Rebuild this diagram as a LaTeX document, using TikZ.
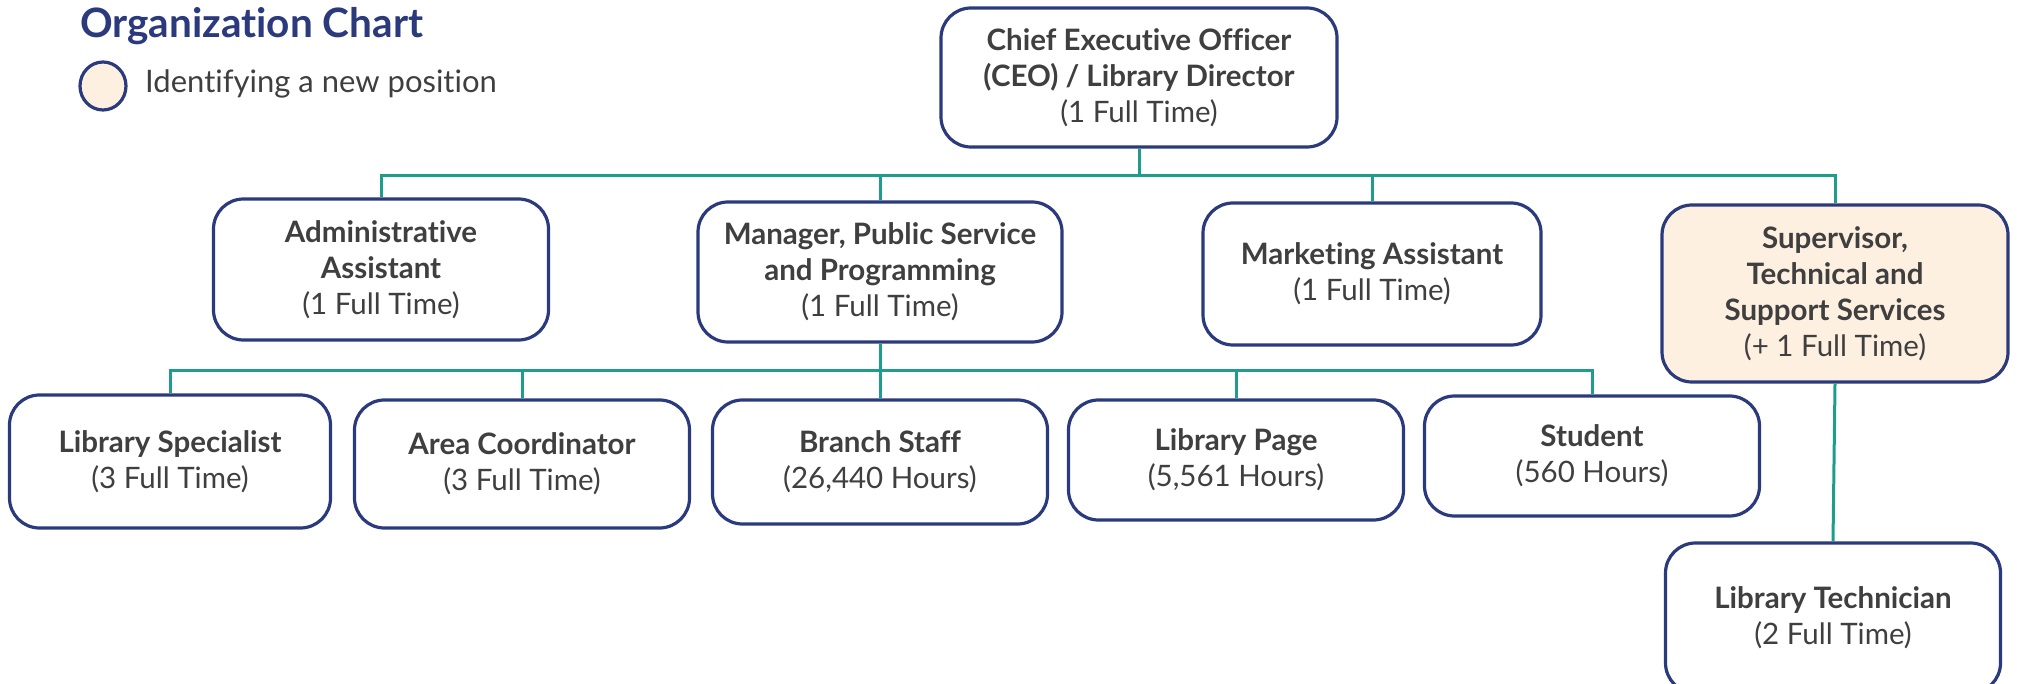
\documentclass[tikz,border=0pt]{standalone}
\usepackage{fontspec}
\usetikzlibrary{shapes.geometric}
\setmainfont{Lato}[Ligatures={NoCommon}]
\definecolor{navy}{HTML}{2A3A7C}
\definecolor{teal}{HTML}{1E9C8C}
\definecolor{txt}{HTML}{3F3F3F}
\definecolor{newfill}{HTML}{FDF0E1}
\tikzset{
  box/.style={draw=navy, line width=3.2pt, rounded corners=30pt, fill=white,
    text=txt, align=center, inner sep=0pt,
    font=\fontsize{29.5}{36}\selectfont},
  newbox/.style={box, fill=newfill},
  conn/.style={draw=teal, line width=3pt},
}
\newcommand{\hd}[1]{{\bfseries #1}}
\begin{document}
\begin{tikzpicture}[x=1pt,y=-1pt]
\useasboundingbox (0,0) rectangle (2018,684);
\clip (0,0) rectangle (2018,684);
% title and legend
\node[anchor=west, text=navy, font=\fontsize{40.5}{44}\selectfont\bfseries, inner sep=0pt] (title) at (80,26) {Organization Chart};
\node[draw=navy, line width=3.2pt, fill=newfill, ellipse, minimum width=46pt, minimum height=48pt, inner sep=0pt] (legc) at (103,86) {};
\node[anchor=west, text=txt, font=\fontsize{31}{34}\selectfont, inner sep=0pt] (legt) at (145,84) {Identifying a new position};
% level 0
\node[box, minimum width=396pt, minimum height=139pt] (ceo) at (1139,77.5)
  {\hd{Chief Executive Officer}\\\hd{(CEO) / Library Director}\\(1 Full Time)};
% level 1
\node[box, minimum width=335pt, minimum height=141pt] (admin) at (381,269.5)
  {\hd{Administrative}\\\hd{Assistant}\\(1 Full Time)};
\node[box, minimum width=364pt, minimum height=140pt] (mgr) at (880,272)
  {\hd{Manager, Public Service}\\\hd{and Programming}\\(1 Full Time)};
\node[box, minimum width=338pt, minimum height=142pt] (mkt) at (1372,274)
  {\hd{Marketing Assistant}\\(1 Full Time)};
\node[newbox, minimum width=346pt, minimum height=177pt] (sup) at (1835,293.5)
  {\hd{Supervisor,}\\\hd{Technical and}\\\hd{Support Services}\\(+ 1 Full Time)};
% level 2
\node[box, minimum width=321pt, minimum height=133pt] (spec) at (170,461.5)
  {\hd{Library Specialist}\\(3 Full Time)};
\node[box, minimum width=335pt, minimum height=128pt] (area) at (522,464)
  {\hd{Area Coordinator}\\(3 Full Time)};
\node[box, minimum width=335pt, minimum height=124pt] (branch) at (880,462)
  {\hd{Branch Staff}\\(26,440 Hours)};
\node[box, minimum width=335pt, minimum height=120pt] (page) at (1236,460)
  {\hd{Library Page}\\(5,561 Hours)};
\node[box, minimum width=335pt, minimum height=120pt] (student) at (1592,456)
  {\hd{Student}\\(560 Hours)};
\node[box, minimum width=335pt, minimum height=150pt] (tech) at (1833,618)
  {\hd{Library Technician}\\(2 Full Time)};
% connectors
\coordinate (bus1) at (1139,176);
\coordinate (bus2) at (880,371);
\draw[conn] (ceo.south) -- (bus1);
\draw[conn] (bus1) -| (admin.north);
\draw[conn] (bus1) -| (mgr.north);
\draw[conn] (bus1) -| (mkt.north);
\draw[conn] (bus1) -| (sup.north);
\draw[conn] (mgr.south) -- (bus2);
\draw[conn] (bus2) -| (spec.north);
\draw[conn] (bus2) -| (area.north);
\draw[conn] (bus2) -- (branch.north);
\draw[conn] (bus2) -| (page.north);
\draw[conn] (bus2) -| (student.north);
\draw[conn] (sup.south) -- (tech.north);
\end{tikzpicture}
\end{document}
